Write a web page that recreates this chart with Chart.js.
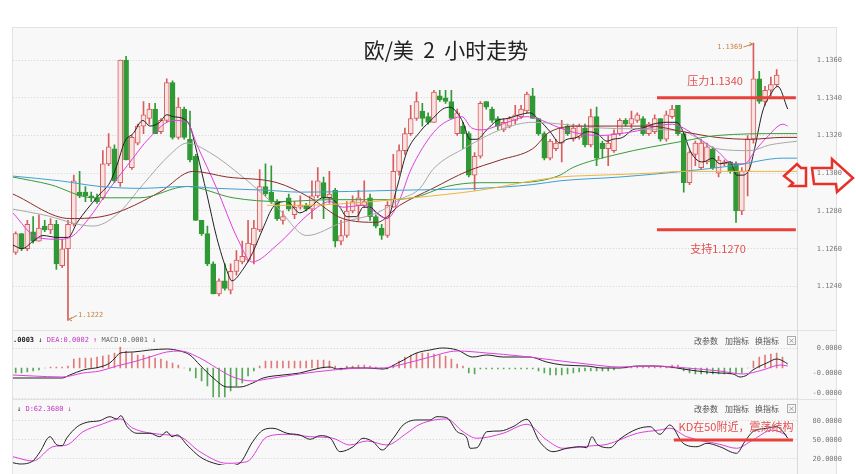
<!DOCTYPE html>
<html>
<head>
<meta charset="utf-8">
<title>欧/美 2 小时走势</title>
<script src="https://cdn.jsdelivr.net/npm/chart.js@4.4.0/dist/chart.umd.min.js"></script>
<style>
  html, body { margin: 0; padding: 0; background: #fff; }
  #stage { position: relative; width: 856px; height: 474px; overflow: hidden; }
  .panel { position: absolute; left: 12px; width: 825px; background: #f8f8f8; border: 1px solid #e2e2e2; box-sizing: border-box; }
  #axisLine { position: absolute; left: 797px; top: 27px; width: 1px; height: 447px; background: #dadada; }
  canvas { position: absolute; left: 0; }
  .title { position: absolute; left: 0; width: 892px; top: 36px; text-align: center; font: 21px "Noto Sans CJK SC"; color: #222; line-height: 26px; white-space: pre; }
  .hdr { position: absolute; font: 7px "DejaVu Sans Mono", monospace; line-height: 8px; white-space: pre; color: #222; }
  .tools { position: absolute; left: 694px; font: 8px "Noto Sans CJK SC"; line-height: 9px; color: #555; white-space: pre; }
  .tools span { position: absolute; top: 0; }
  .tools .x { border: 1px solid #aaa; width: 7px; height: 7px; line-height: 7px; font-size: 7px; text-align: center; color: #777; }
  svg { position: absolute; left: 0; top: 0; }
</style>
</head>
<body>
<div id="stage">
  <div class="panel" style="top:27px;height:304px"></div>
  <div class="panel" style="top:330px;height:70px"></div>
  <div class="panel" style="top:399px;height:80px"></div>
  <div id="axisLine"></div>

  <canvas id="mainChart" width="856" height="332" style="top:0"></canvas>
  <canvas id="macdChart" width="856" height="70" style="top:330px"></canvas>
  <canvas id="kdChart" width="856" height="75" style="top:399px"></canvas>

  <div class="title">欧/美  2  小时走势</div>

  <div class="hdr" style="left:13px;top:336px"><b>.0003</b> ↓ <span style="color:#c23ac2">DEA:0.0002 ↑</span> <span style="color:#666">MACD:0.0001 ↓</span></div>
  <div class="tools" style="top:336px"><span style="left:0">改参数</span><span style="left:31px">加指标</span><span style="left:61px">换指标</span><span class="x" style="left:93px">×</span></div>

  <div class="hdr" style="left:17px;top:405px">↓ <span style="color:#c23ac2">D:62.3680 ↓</span></div>
  <div class="tools" style="top:404px"><span style="left:0">改参数</span><span style="left:31px">加指标</span><span style="left:61px">换指标</span><span class="x" style="left:93px">×</span></div>

  <svg width="856" height="474">
    <polygon points="784,176 797,164 801,168 806,168 806,186 790,186 793,183" fill="none" stroke="#e8302a" stroke-width="2.5"/>
    <polygon points="812,168 832,168 832,159 853,178 837,192 836,184 814,184" fill="none" stroke="#e8302a" stroke-width="2.5"/>
  </svg>
</div>

<script>
// EUR/USD 2h candles
const opens = [1.1258,1.1268,1.1260,1.1269,1.1264,1.1272,1.1270,1.1273,1.1251,1.1260,
  1.1273,1.1290,1.1290,1.1288,1.1287,1.1287,1.1305,1.1313,1.1295,1.1360,
  1.1303,1.1316,1.1325,1.1329,1.1334,1.1322,1.1328,1.1348,1.1319,1.1334,
  1.1318,1.1309,1.1275,1.1268,1.1252,1.1236,1.1243,1.1238,1.1248,1.1253,
  1.1254,1.1262,1.1270,1.1293,1.1290,1.1285,1.1275,1.1287,1.1278,1.1282,
  1.1283,1.1281,1.1288,1.1295,1.1287,1.1291,1.1264,1.1267,1.1280,1.1283,
  1.1283,1.1287,1.1277,1.1271,1.1267,1.1282,1.1301,1.1312,1.1321,1.1329,
  1.1333,1.1330,1.1327,1.1341,1.1340,1.1338,1.1321,1.1325,1.1321,1.1299,
  1.1309,1.1338,1.1334,1.1329,1.1323,1.1325,1.1328,1.1330,1.1333,1.1341,
  1.1329,1.1321,1.1308,1.1313,1.1316,1.1325,1.1318,1.1319,1.1324,1.1315,
  1.1330,1.1316,1.1313,1.1312,1.1321,1.1328,1.1326,1.1328,1.1329,1.1321,
  1.1322,1.1329,1.1318,1.1330,1.1336,1.1321,1.1295,1.1310,1.1303,1.1306,
  1.1313,1.1300,1.1305,1.1306,1.1305,1.1280,1.1301,1.1318,1.1350,1.1338,
  1.1344,1.1347];
const highs = [1.1269,1.1268,1.1275,1.1277,1.1278,1.1275,1.1276,1.1275,1.1265,1.1275,
  1.1299,1.1301,1.1293,1.1290,1.1289,1.1312,1.1321,1.1315,1.1360,1.1362,
  1.1320,1.1326,1.1338,1.1337,1.1337,1.1329,1.1350,1.1349,1.1340,1.1335,
  1.1333,1.1310,1.1275,1.1272,1.1253,1.1244,1.1252,1.1252,1.1259,1.1264,
  1.1275,1.1275,1.1302,1.1305,1.1304,1.1286,1.1280,1.1289,1.1285,1.1288,
  1.1284,1.1296,1.1303,1.1298,1.1301,1.1292,1.1275,1.1285,1.1288,1.1291,
  1.1296,1.1289,1.1278,1.1273,1.1285,1.1310,1.1315,1.1324,1.1336,1.1343,
  1.1337,1.1332,1.1344,1.1344,1.1344,1.1344,1.1334,1.1327,1.1322,1.1311,
  1.1338,1.1338,1.1335,1.1330,1.1329,1.1330,1.1336,1.1336,1.1343,1.1345,
  1.1329,1.1322,1.1318,1.1318,1.1328,1.1326,1.1326,1.1326,1.1326,1.1334,
  1.1335,1.1317,1.1320,1.1323,1.1329,1.1329,1.1333,1.1332,1.1330,1.1327,
  1.1331,1.1329,1.1333,1.1336,1.1336,1.1321,1.1312,1.1317,1.1318,1.1316,
  1.1314,1.1309,1.1307,1.1306,1.1306,1.1303,1.1320,1.1369,1.1354,1.1346,
  1.1351,1.1355];
const lows = [1.1257,1.1259,1.1259,1.1263,1.1264,1.1269,1.1268,1.1249,1.1250,1.1222,
  1.1272,1.1287,1.1285,1.1285,1.1284,1.1286,1.1304,1.1295,1.1293,1.1307,
  1.1302,1.1315,1.1321,1.1326,1.1321,1.1321,1.1327,1.1318,1.1318,1.1318,
  1.1306,1.1275,1.1267,1.1251,1.1236,1.1235,1.1238,1.1236,1.1246,1.1252,
  1.1253,1.1252,1.1269,1.1288,1.1284,1.1275,1.1273,1.1280,1.1276,1.1281,
  1.1280,1.1276,1.1287,1.1276,1.1284,1.1261,1.1262,1.1266,1.1279,1.1275,
  1.1282,1.1275,1.1271,1.1265,1.1266,1.1282,1.1299,1.1310,1.1320,1.1328,
  1.1325,1.1326,1.1327,1.1338,1.1337,1.1329,1.1320,1.1313,1.1298,1.1291,
  1.1308,1.1334,1.1327,1.1323,1.1322,1.1324,1.1326,1.1329,1.1332,1.1329,
  1.1320,1.1307,1.1307,1.1312,1.1306,1.1320,1.1317,1.1318,1.1314,1.1314,
  1.1304,1.1308,1.1304,1.1311,1.1320,1.1325,1.1324,1.1327,1.1320,1.1320,
  1.1321,1.1317,1.1317,1.1329,1.1320,1.1290,1.1294,1.1304,1.1302,1.1305,
  1.1302,1.1298,1.1304,1.1300,1.1274,1.1278,1.1288,1.1316,1.1337,1.1336,
  1.1341,1.1346];
const closes = [1.1268,1.1260,1.1273,1.1264,1.1271,1.1270,1.1273,1.1252,1.1260,1.1273,
  1.1296,1.1288,1.1288,1.1287,1.1285,1.1305,1.1314,1.1296,1.1360,1.1307,
  1.1319,1.1325,1.1331,1.1334,1.1321,1.1328,1.1348,1.1319,1.1335,1.1319,
  1.1307,1.1275,1.1268,1.1252,1.1236,1.1243,1.1239,1.1248,1.1254,1.1256,
  1.1263,1.1271,1.1293,1.1289,1.1285,1.1276,1.1277,1.1281,1.1282,1.1283,
  1.1281,1.1288,1.1296,1.1287,1.1289,1.1264,1.1267,1.1280,1.1285,1.1287,
  1.1285,1.1277,1.1272,1.1267,1.1283,1.1301,1.1312,1.1321,1.1329,1.1338,
  1.1329,1.1327,1.1343,1.1339,1.1338,1.1329,1.1332,1.1321,1.1299,1.1309,
  1.1337,1.1335,1.1328,1.1325,1.1327,1.1329,1.1331,1.1334,1.1342,1.1329,
  1.1321,1.1308,1.1317,1.1316,1.1324,1.1321,1.1324,1.1325,1.1315,1.1330,
  1.1308,1.1313,1.1316,1.1321,1.1328,1.1326,1.1329,1.1331,1.1321,1.1326,
  1.1329,1.1318,1.1331,1.1334,1.1321,1.1295,1.1311,1.1316,1.1316,1.1314,
  1.1303,1.1307,1.1306,1.1301,1.1280,1.1301,1.1318,1.1350,1.1338,1.1344,
  1.1347,1.1352];

// moving averages as [candle index, price]
const ma5 = [[-0.5,1.1262],[1.1,1.1260],[3,1.1264],[4.7,1.1267],[7.1,1.1266],[9,1.1266],[10.6,1.1274],[12.3,1.1281],
  [14.5,1.1289],[16.2,1.1295],[17.4,1.1304],[18.8,1.1317],[20.2,1.1321],[21.9,1.1328],[23.1,1.1325],[24.8,1.1327],
  [26,1.1331],[27.1,1.1330],[28.8,1.1329],[30,1.1325],[31.2,1.1311],[32.9,1.1289],[34.6,1.1266],[36.4,1.1248],
  [37.2,1.1243],[39.1,1.1249],[40.8,1.1258],[42.6,1.1271],[44.3,1.1282],[46.7,1.1285],[48.9,1.1279],[50.7,1.1282],
  [52.9,1.1287],[54.1,1.1287],[55.8,1.1282],[57,1.1277],[58.7,1.1277],[59.8,1.1282],[61,1.1282],[62.2,1.1279],
  [63.9,1.1276],[65.6,1.1292],[67.3,1.1311],[69.6,1.1322],[71.8,1.1329],[73.5,1.1334],[74.8,1.1335],[76,1.1332],
  [77,1.1327],[78.2,1.1318],[79.4,1.1318],[81.1,1.1323],[82.9,1.1328],[84.6,1.1329],[86.8,1.1331],[88.5,1.1332],
  [90.2,1.1328],[92,1.1322],[93.7,1.1316],[94.9,1.1318],[96.6,1.1319],[98.3,1.1322],[100.1,1.1321],[101.8,1.1317],
  [102.8,1.1318],[104.5,1.1319],[106.2,1.1323],[108,1.1324],[109.7,1.1326],[112.1,1.1327],[113.8,1.1327],[114.9,1.1322],
  [116.1,1.1312],[117.3,1.1307],[118.3,1.1306],[120,1.1308],[121.2,1.1305],[123,1.1306],[124.1,1.1299],[125.2,1.1299],
  [126.4,1.1303],[127.2,1.1313],[128.6,1.1333],[129.8,1.1341],[131.2,1.1346],[132.9,1.1334]];
const ma10 = [[-0.5,1.1279],[3.7,1.1266],[7.6,1.1265],[9.9,1.1267],[13.3,1.1279],[16.2,1.1292],[19.2,1.1304],[23.1,1.1319],
  [27.1,1.1328],[29.5,1.1327],[31.2,1.1315],[34.6,1.1292],[38.1,1.1266],[40.7,1.1253],[45,1.1262],[50.7,1.1279],
  [54.1,1.1285],[56.3,1.1282],[59.8,1.1283],[63.9,1.1276],[66.1,1.1286],[67.9,1.1301],[70.8,1.1317],[73,1.1325],
  [75.3,1.1329],[76.8,1.1330],[78.5,1.1324],[80.4,1.1323],[82.8,1.1325],[85.6,1.1328],[88,1.1330],[89.7,1.1329],
  [93.7,1.1324],[97.1,1.1321],[100.6,1.1320],[106.2,1.1322],[113.1,1.1326],[115.5,1.1323],[117.8,1.1318],[120.7,1.1312],
  [123.5,1.1305],[125.5,1.1305],[127.3,1.1312],[129.3,1.1319],[132.1,1.1326],[132.9,1.1325]];
const ma20 = [[-0.5,1.1281],[4.7,1.1278],[13.3,1.1272],[17.4,1.1278],[21.9,1.1294],[26.6,1.1310],[29.5,1.1316],[33.4,1.1311],
  [39.1,1.1298],[45,1.1282],[50.1,1.1267],[56.3,1.1274],[62.2,1.1279],[66.1,1.1286],[69.6,1.1292],[71.8,1.1302],
  [77.7,1.1314],[83.4,1.1323],[89,1.1327],[100.6,1.1324],[112.1,1.1323],[115.2,1.1322],[120.7,1.1313],[126.4,1.1312],
  [129.8,1.1315],[134.5,1.1317]];
const ma30 = [[-0.5,1.1289],[9.3,1.1276],[16.2,1.1278],[24.8,1.1290],[30.5,1.1301],[36.4,1.1298],[45,1.1295],[50.7,1.1287],
  [56.3,1.1276],[62.2,1.1274],[66.1,1.1283],[71.8,1.1292],[77.7,1.1301],[83.4,1.1307],[89,1.1313],[92,1.1322],
  [97.6,1.1325],[109.2,1.1325],[114.9,1.1322],[120.7,1.1319],[126.4,1.1318],[132.1,1.1319],[134.5,1.1319]];
const ma60 = [[-0.5,1.1298],[5.9,1.1294],[13.3,1.1287],[21.4,1.1287],[29.5,1.1293],[37.4,1.1287],[45.5,1.1285],[54.1,1.1286],
  [62.7,1.1286],[68.4,1.1287],[74.2,1.1293],[79.9,1.1295],[85.6,1.1295],[90.2,1.1296],[93.7,1.1299],[95.9,1.1303],
  [103.5,1.1310],[114.9,1.1317],[120.7,1.1320],[132.1,1.1321],[134.5,1.1321]];
const ma120 = [[-0.5,1.12985],[7.6,1.1296],[14.5,1.1293],[21.4,1.1292],[29.5,1.1293],[34.6,1.1292],[43.3,1.1291],[48.9,1.1290],
  [66.1,1.1291],[79.9,1.1292],[89,1.1294],[93.7,1.1296],[104,1.1298],[114.9,1.1301],[123.5,1.1304],[132.1,1.1308],
  [134.5,1.1308]];
const ma250 = [[43.3,1.1283],[48.9,1.1283],[57,1.1284],[68.4,1.1287],[79.9,1.1291],[89,1.1296],[93.7,1.1298],[100.6,1.1299],
  [109.2,1.1300],[114.9,1.1301],[134.5,1.1301]];

const priceTicks = [1.1240, 1.1260, 1.1280, 1.1300, 1.1320, 1.1340, 1.1360];
const levels = [1.1340, 1.1270];
const levelNames = ['压力', '支持'];
const levelSpan = [110.4, 134.3];

// MACD, in millionths
const macdHist = [-5,-5,-4,-3,-2, 0,1,1,1,2, 9,10,10,10,11, 12,13,15,21,17, 15,13,13,12,10, 9,7,5,3,0,
  -3,-10,-13,-18,-29, -29,-29,-23,-18,-15, -8,-3,2,7,7, 7,7,7,7,7, 7,8,8,8,7, 2,-2,2,2,3,
  3,2,1,-1,-1, 3,7,11,13,15, 15,15,14,13,12, 9,4,2,-5,-6, -1,-1,-1,-1,-1, -1,-1,-1,-1,-1,
  -3,-5,-7,-7,-7, -6,-5,-4,-3,-3, -3,-3,-3,-2,0, 1,1,1,1,1, 1,1,1,3,3, -3,-5,-6,-6,-6,
  -6,-6,-6,-6,-6, -5,0,7,11,13, 14,15,11];
const dif = [[-0.5,-10],[3,-10],[8,-10],[9.3,-7],[11.6,-2],[14.5,1],[16.2,5],[17.1,10],[18,15],[20.2,16],[23.1,18],
  [26,19],[28.3,17],[30,13],[31.7,3],[34,-10],[36.4,-19],[38.6,-19],[40.8,-15],[42.6,-10],[46,-7],[48.9,-5],
  [52.4,0],[54.1,1],[55.3,-1],[57.5,0],[60.5,0],[63.2,-1],[66.1,6],[69,15],[71.3,18],[73.5,20],[76,18],[78.7,11],
  [81.1,13],[83.9,11],[86.8,11],[88.5,11],[91.4,6],[94.2,3],[98.3,2],[101.1,0],[104,0],[107,2],[109.7,2],
  [112.6,1],[114.9,-1],[117.3,-3],[121.2,-5],[123.5,-6],[124.7,-9],[125.9,-7],[126.9,-2],[129.3,5],[131,9],
  [132.1,7],[132.9,4]];
const dea = [[-0.5,-7],[3,-8],[8,-9],[11.6,-5],[14.5,-3],[17.4,2],[20.2,6],[23.1,11],[26,16],[28.3,17],[31.7,10],
  [34.6,0],[37.4,-9],[40.8,-13],[43.3,-11],[48.9,-6],[54.6,-2],[60.5,0],[63.2,0],[66.1,3],[71.3,11],[76,17],
  [81.1,15],[86.8,12],[92.5,8],[98.3,4],[104,1],[109.7,2],[115.5,0],[121.2,-3],[125.2,-6],[128.6,-2],[131.6,3],
  [132.9,2]];
const macdTicks = [20, -5, -25, -30];

// KD stochastic
const kLine = [[-0.5,14.2],[0.7,12.1],[3,17.3],[4.2,31.5],[5.9,55.2],[7.1,42.1],[8,41],[8.8,53.2],[10.6,71],[12.3,78],
  [14.5,80.5],[16.2,86.8],[17.4,83.2],[18.1,88.4],[19.2,71],[20.9,60.6],[23.1,60.6],[24.8,55.2],[26,63.1],[26.9,55.2],
  [27.8,57.9],[29.5,42.1],[31.7,23.6],[34,13.7],[36.9,9.4],[38.6,13.7],[40.8,47.3],[42.6,65.8],[44.3,68.5],[46.7,60.6],
  [48.9,57.9],[50.7,51.1],[52.4,56.8],[54.1,53.6],[55.8,31.5],[58.1,39.4],[59.8,52.7],[61.5,47.3],[63.1,34.2],[65,52.7],
  [66.7,73.7],[69.1,81.6],[71.3,81.6],[72.5,86.8],[74.2,85.2],[76,63.1],[77.7,52.7],[78.2,36.9],[79.4,37.8],[81.1,63.1],
  [83.4,64.2],[85.6,71],[88,82.7],[90.2,47.3],[92.5,31.5],[94.9,36.9],[97.1,39.4],[98.3,37.8],[99.2,55.2],[100.1,43.2],
  [102.3,37.8],[104,51.6],[107,67.4],[109.2,71],[110.9,59],[112.6,73.7],[114.9,44.8],[117.3,39.4],[119,44.8],[121.2,39.4],
  [124.1,29],[125.5,47.3],[126.9,63.1],[129.3,68.5],[131,71],[132.1,63.1],[132.9,52.7]];
const dLine = [[-0.5,23.6],[3,16.8],[6.4,39.4],[8.8,42.1],[11.6,63.1],[14.5,73.7],[18,83.2],[20.2,68.5],[24.8,59],
  [28.3,55.2],[31.7,31.5],[36.4,13.2],[39.8,15.7],[43.3,55.2],[46.7,59],[50.7,55.2],[54.6,52.7],[57.5,42.1],[60.5,48.4],
  [63.9,42.1],[67.3,60.6],[69.6,74.8],[74.2,83.2],[77,63.1],[79.4,52.7],[83.9,60.6],[88,74.8],[91.4,50],[94.2,36.9],
  [98.8,40.5],[101.8,43.2],[107,60.6],[110.9,65.8],[112.6,68.5],[115.5,55.2],[121.2,43.2],[124.1,36.9],[126.9,50],
  [130.3,65.8],[132.7,57.9]];
const kdTicks = [20, 50, 80];
const kdLevel = 50;
const kdSpan = [113.3, 133.8];

Chart.defaults.font.family = '"DejaVu Sans Mono", monospace';

const UP = '#d95c5c', UP_FILL = '#f8e2e2', DOWN = '#2f9a35';
const NOTE_RED = '#e24f4f', LEVEL_RED = '#e8403a', MARK = '#c9803f';
const maStyles = [
  { data: ma250, color: '#f0b43c' },
  { data: ma120, color: '#3f9fd0' },
  { data: ma60, color: '#3a9a3a' },
  { data: ma30, color: '#8b2a2a' },
  { data: ma20, color: '#a8a8a8' },
  { data: ma10, color: '#dd3fdd' },
  { data: ma5, color: '#222222' }
];

// shared x axis: one slot per 2h candle
const xAxis = { type: 'linear', min: -0.5, max: 134.5, offset: false, display: false, grid: { offset: false } };
const pts = arr => arr.map(([x, y]) => ({ x, y }));

function rightAxis(min, max, tickVals, fmt, pad, gridColor) {
  return {
    position: 'right', min, max,
    afterFit: s => { s.width = 45; s.paddingTop = 0; s.paddingBottom = 0; },
    afterBuildTicks: s => { s.ticks = tickVals.map(v => ({ value: v })); },
    ticks: { padding: pad, crossAlign: 'far', color: '#777', font: { size: 7 }, callback: fmt },
    grid: { drawTicks: false, color: gridColor || '#d2d2d2' },
    border: { display: false, dash: [1, 2] }
  };
}

function lineSet(data, color, width) {
  return { type: 'line', data: pts(data), borderColor: color, borderWidth: width || 1, pointRadius: 0,
           cubicInterpolationMode: 'monotone', order: 0 };
}

const isUp = closes.map((c, i) => c >= opens[i]);

// labels and arrows for the extremes and the support / resistance notes
const mainNotes = {
  id: 'mainNotes',
  afterDatasetsDraw(chart) {
    const { ctx, scales: { x, y } } = chart;
    ctx.save();
    const hiIdx = highs.indexOf(Math.max(...highs));
    const loIdx = lows.indexOf(Math.min(...lows));
    ctx.font = '7px "DejaVu Sans Mono"';
    ctx.fillStyle = MARK;
    ctx.strokeStyle = MARK;
    ctx.lineWidth = 1;
    ctx.textBaseline = 'middle';

    let px = x.getPixelForValue(hiIdx), py = y.getPixelForValue(highs[hiIdx]);
    ctx.textAlign = 'right';
    ctx.fillText(highs[hiIdx].toFixed(4), px - 11, py + 4);
    ctx.beginPath();
    ctx.moveTo(px - 10, py + 4); ctx.lineTo(px - 1, py + 1);
    ctx.moveTo(px - 4, py - 0.5); ctx.lineTo(px - 1, py + 1); ctx.lineTo(px - 4, py + 3);
    ctx.stroke();

    px = x.getPixelForValue(loIdx); py = y.getPixelForValue(lows[loIdx]);
    ctx.textAlign = 'left';
    ctx.fillText(lows[loIdx].toFixed(4), px + 10, py - 5);
    ctx.beginPath();
    ctx.moveTo(px + 9, py - 5); ctx.lineTo(px + 1, py - 1);
    ctx.moveTo(px + 4, py - 3); ctx.lineTo(px + 1, py - 1); ctx.lineTo(px + 4, py + 0.5);
    ctx.stroke();

    ctx.font = '11px "Noto Sans CJK SC"';
    ctx.fillStyle = NOTE_RED;
    ctx.textAlign = 'center';
    ctx.fillText(levelNames[0] + levels[0].toFixed(4), x.getPixelForValue(120.4), y.getPixelForValue(levels[0]) - 17);
    ctx.fillText(levelNames[1] + levels[1].toFixed(4), x.getPixelForValue(120.9), y.getPixelForValue(levels[1]) + 19);
    ctx.restore();
  }
};

new Chart(document.getElementById('mainChart'), {
  type: 'bar',
  data: {
    datasets: [
      ...levels.map(v => ({ type: 'line', data: [{ x: levelSpan[0], y: v }, { x: levelSpan[1], y: v }],
        borderColor: LEVEL_RED, borderWidth: 3, pointRadius: 0, order: 0 })),
      ...maStyles.map(m => lineSet(m.data, m.color)),
      {
        data: opens.map((o, i) => ({ x: i, y: [o, closes[i]] })),
        backgroundColor: isUp.map(u => u ? UP_FILL : DOWN),
        borderColor: isUp.map(u => u ? UP : DOWN),
        borderWidth: 1, borderSkipped: false, barThickness: 5, minBarLength: 1, grouped: false, order: 1
      },
      {
        data: lows.map((l, i) => ({ x: i, y: [l, highs[i]] })),
        backgroundColor: isUp.map(u => u ? UP : DOWN),
        barThickness: 1, grouped: false, order: 2
      }
    ]
  },
  options: {
    responsive: false, animation: false, devicePixelRatio: 1,
    layout: { padding: { left: 12.8, right: 14, top: 27, bottom: 4 } },
    plugins: { legend: { display: false }, tooltip: { enabled: false } },
    scales: { x: xAxis, y: rightAxis(1.1218, 1.13775, priceTicks, v => v.toFixed(4), 11.8) }
  },
  plugins: [mainNotes]
});

new Chart(document.getElementById('macdChart'), {
  type: 'bar',
  data: {
    datasets: [
      lineSet(dea, '#dd3fdd'),
      lineSet(dif, '#222222'),
      {
        data: macdHist.map((v, i) => ({ x: i, y: v })),
        backgroundColor: macdHist.map(v => v >= 0 ? '#df7b7b' : '#55a855'),
        barThickness: 1, grouped: false, order: 1
      }
    ]
  },
  options: {
    responsive: false, animation: false, devicePixelRatio: 1,
    layout: { padding: { left: 12.8, right: 14, top: 2, bottom: 2 } },
    plugins: { legend: { display: false }, tooltip: { enabled: false } },
    scales: {
      x: xAxis,
      y: Object.assign(rightAxis(-30, 36, macdTicks, v => v === -30 ? '' : (v * 1e-6).toFixed(4), 7.6), {
        grid: { drawTicks: false, color: c => (c.tick && (c.tick.value === 20 || c.tick.value === -30)) ? '#d2d2d2' : 'rgba(0,0,0,0)' }
      })
    }
  }
});

const kdNotes = {
  id: 'kdNotes',
  afterDatasetsDraw(chart) {
    const { ctx, scales: { x, y } } = chart;
    ctx.save();
    ctx.font = '11px "Noto Sans CJK SC"';
    ctx.fillStyle = NOTE_RED;
    ctx.textAlign = 'center';
    ctx.textBaseline = 'middle';
    ctx.fillText('KD在' + kdLevel + '附近，震荡结构', x.getPixelForValue(124), y.getPixelForValue(kdLevel) - 13);
    ctx.restore();
  }
};

new Chart(document.getElementById('kdChart'), {
  type: 'line',
  data: {
    datasets: [
      { type: 'line', data: [{ x: kdSpan[0], y: kdLevel }, { x: kdSpan[1], y: kdLevel }],
        borderColor: LEVEL_RED, borderWidth: 3, pointRadius: 0, order: 0 },
      lineSet(kLine, '#222222'),
      lineSet(dLine, '#dd3fdd')
    ]
  },
  options: {
    responsive: false, animation: false, devicePixelRatio: 1,
    layout: { padding: { left: 12.8, right: 14, top: 4, bottom: 9 } },
    plugins: { legend: { display: false }, tooltip: { enabled: false } },
    scales: { x: xAxis, y: rightAxis(10.5, 108.4, kdTicks, v => v.toFixed(4), 7.6) }
  },
  plugins: [kdNotes]
});
</script>
</body>
</html>
